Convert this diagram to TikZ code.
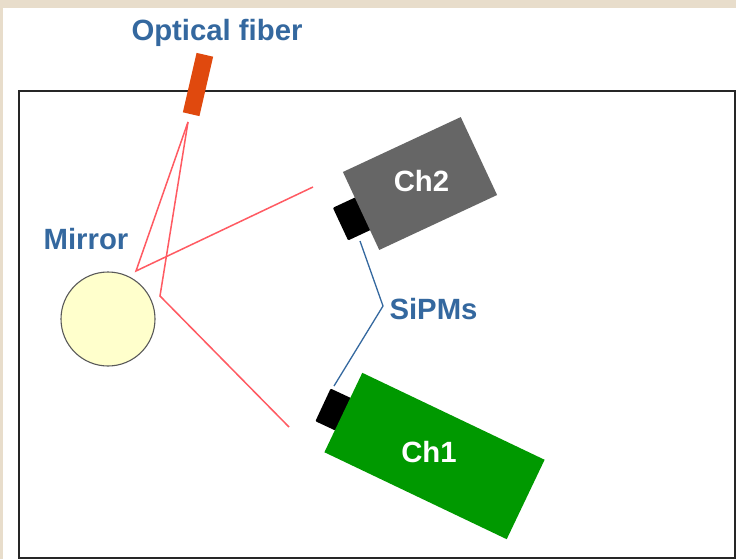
\documentclass[tikz,border=0pt]{standalone}
\usepackage{fontspec}
\setmainfont{Liberation Sans}
\usepackage{xcolor}
\usetikzlibrary{positioning}

\definecolor{PageBack}{HTML}{E8DDCB}
\definecolor{LabelBlue}{HTML}{34689F}
\definecolor{FiberOrange}{HTML}{E0490E}
\definecolor{MirrorYellow}{HTML}{FFFFCC}
\definecolor{RayRed}{HTML}{FF5A62}
\definecolor{ChGreen}{HTML}{009900}
\definecolor{ChGray}{HTML}{666666}

\begin{document}
\begin{tikzpicture}[x=1pt, y=-1pt,
caption/.style={text=LabelBlue, font=\fontsize{29.3}{30}\selectfont\bfseries, inner sep=0pt},
%
chname/.style={text=white, font=\fontsize{29.3}{30}\selectfont\bfseries, inner sep=0pt},
%
body/.style={rectangle, inner sep=0pt, outer sep=0pt},
%
sipm/.style={rectangle, fill=black, rounded corners=1pt, inner sep=0pt, outer sep=0pt,
minimum width=36pt, minimum height=28pt},
%
ray/.style={draw=RayRed, line width=1.5pt},
%
lead/.style={draw=LabelBlue, line width=1.3pt}]

\useasboundingbox (0,0) rectangle (736,559);

%%%%%%%%%%%%%%%%%%%%%%%%%%%%%%
\fill [PageBack] (0,0) rectangle (736,559);
\fill [white] (3,8) rectangle (736,559);
\draw [line width=1.6pt, black!85] (19,91) rectangle (735,558);

%%%%%%%%%%%%%%%%%%%%%%%%%%%%%%
\node [body, fill=FiberOrange, minimum width=61pt, minimum height=17pt, rotate=77] (fiber) at (198,84.5) {};
\node [circle, draw=black!65, line width=1.1pt, fill=MirrorYellow, minimum size=94pt, inner sep=0pt] (mirror) at (108,319) {};
\node [sipm, rotate=-65] (sipmTwo) at (353.2,218.2) {};
\node [sipm, rotate=65] (sipmOne) at (335.7,410.8) {};
\node [body, fill=ChGray, minimum width=130pt, minimum height=86pt, rotate=25] (bodyTwo) at (420,183.5) {};
\node [body, fill=ChGreen, minimum width=202pt, minimum height=88pt, rotate=-25.5] (bodyOne) at (434.5,456) {};

%%%%%%%%%%%%%%%%%%%%%%%%%%%%%%
\node [caption] (fiberText) at (217,33) {Optical fiber};
\node [caption] (mirrorText) at (86,239) {Mirror};
\node [caption] (sipmText) at (433.5,309) {SiPMs};
\node [chname] (chTwo) at (421.5,181) {Ch2};
\node [chname] (chOne) at (429,452) {Ch1};

%%%%%%%%%%%%%%%%%%%%%%%%%%%%%%
\coordinate (source) at (188,122);
\coordinate (hitUp) at (136,271);
\coordinate (hitDown) at (160,296);
\coordinate (endTwo) at (313,187);
\coordinate (endOne) at (289,427);
\coordinate (leadTwo) at (360,241);
\coordinate (leadBend) at (383,306);
\coordinate (leadOne) at (334,386);

\draw [ray] (source) -- (hitUp) -- (endTwo);
\draw [ray] (source) -- (hitDown) -- (endOne);
\draw [lead] (leadTwo) -- (leadBend) -- (leadOne);

\end{tikzpicture}
\end{document}
